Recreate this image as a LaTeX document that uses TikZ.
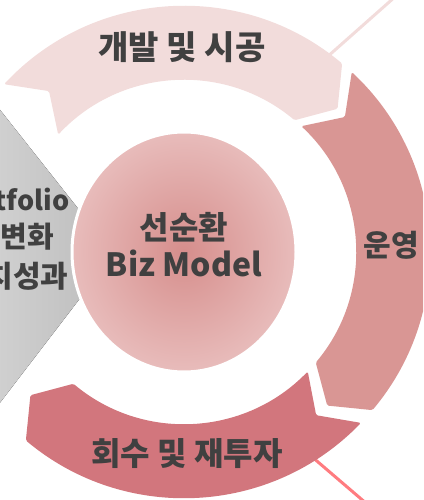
\documentclass[tikz,border=0pt]{standalone}
\usepackage{fontspec}
\newfontfamily\kr{Noto Sans CJK KR}
\usetikzlibrary{calc}
\definecolor{segA}{HTML}{F2DCDB}
\definecolor{segB}{HTML}{D99694}
\definecolor{segC}{HTML}{D2767D}
\definecolor{txt}{HTML}{404040}
\definecolor{lineA}{HTML}{F2DCDB}
\definecolor{lineB}{HTML}{FF7C80}
\definecolor{greyL}{HTML}{DADADA}
\definecolor{greyR}{HTML}{BCBCBC}
\definecolor{discIn}{HTML}{D68E8C}
\definecolor{discOut}{HTML}{E8BCBB}
\newcommand\Ro{246}
\newcommand\Ri{172}
\newcommand\Rm{210}
\newcommand\dd{7}
\newcommand\ringseg[3]{%
  \fill[#3, rounded corners=1.5pt]
    ($(C)+(#1:\Ro)$) arc[start angle=#1, end angle=#2, radius=\Ro]
    -- ($(C)+({#2-\dd}:\Rm)$)
    -- ($(C)+(#2:\Ri)$) arc[start angle=#2, end angle=#1, radius=\Ri]
    -- ($(C)+({#1-\dd}:\Rm)$) -- cycle;}
\begin{document}
\begin{tikzpicture}[x=1pt,y=1pt,
  segtxt/.style={font=\kr\bfseries\fontsize{30}{36}\selectfont, text=txt, inner sep=0pt, anchor=base},
  lefttxt/.style={font=\kr\bfseries\fontsize{29}{36}\selectfont, text=txt, inner sep=0pt, anchor=base east},
  deco/.style={line width=3pt}]
\useasboundingbox (0,0) rectangle (423,500);
\clip (0,0) rectangle (423,500);
\coordinate (C) at (184,248);
% decorative lines
\coordinate (la) at (300,419);
\coordinate (lb) at (396,504);
\coordinate (lc) at (290,62);
\coordinate (ld) at (367,-4);
\draw[deco, lineA] (la) -- (lb);
\draw[deco, lineB] (lc) -- (ld);
% grey chevron on the left
\fill[left color=greyL, right color=greyR] (-60,466) -- (114,246) -- (-60,19) -- cycle;
\node[lefttxt, font=\kr\bfseries\fontsize{27}{34}\selectfont] (p1) at (69.5,289) {Portfolio};
\node[lefttxt] (p2) at (54,252) {다변화};
\node[lefttxt, font=\kr\bfseries\fontsize{30}{36}\selectfont] (p3) at (68.5,212) {가치성과};
% ring segments
\ringseg{137}{50}{segA}
\ringseg{47}{-40}{segB}
\ringseg{-44}{-130}{segC}
% central disc
\path[draw=white, line width=3pt, inner color=discIn, outer color=discOut]
  (C) ellipse[x radius=112, y radius=120];
\node[segtxt, font=\kr\bfseries\fontsize{32}{38}\selectfont] (c1) at (184,260) {선순환};
\node[segtxt, font=\kr\bfseries\fontsize{32}{38}\selectfont] (c2) at (184,223) {Biz Model};
% segment labels
\node[segtxt, font=\kr\bfseries\fontsize{33}{38}\selectfont] (s1) at (182,440) {개발 및 시공};
\node[segtxt] (s2) at (391.5,243) {운영};
\node[segtxt, font=\kr\bfseries\fontsize{32}{38}\selectfont] (s3) at (187,34) {회수 및 재투자};
\end{tikzpicture}
\end{document}
